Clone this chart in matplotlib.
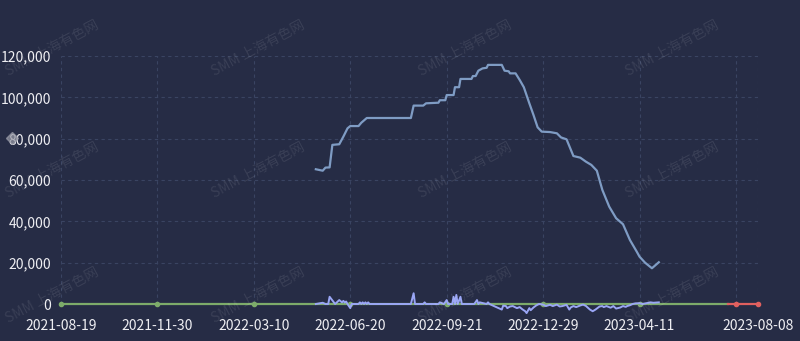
import matplotlib
matplotlib.use('Agg')
import matplotlib.pyplot as plt
from matplotlib.lines import Line2D

plt.rcParams['font.family'] = ['Noto Sans CJK SC', 'DejaVu Sans']

# category axis: one step = one trading day, labels every 70 days
tick_pos = [0, 70, 140, 210, 280, 350, 420, 506]
tick_labels = ['2021-08-19', '2021-11-30', '2022-03-10', '2022-06-20',
               '2022-09-21', '2022-12-29', '2023-04-11', '2023-08-08']
grid_pos = [0, 70, 140, 210, 280, 350, 420, 490, 506]
n_days = 506

# main series (stock level)
main_x = [185, 190, 192, 195, 197, 202, 205, 208, 210, 216, 218, 222, 254, 256,
          263, 265, 274, 275, 279, 280, 285, 286, 289, 290, 298, 299, 301, 303,
          306, 309, 310, 320, 322, 325, 326, 330, 333, 336, 340, 343, 346, 349,
          355, 360, 363, 367, 372, 377, 381, 385, 389, 393, 398, 403, 408, 413,
          418, 420, 424, 429, 434]
main_y = [65200, 64500, 66000, 66100, 77000, 77300, 81000, 85000, 86100, 86100,
          87700, 90000, 90000, 96000, 96000, 97100, 97400, 98600, 98600, 101100,
          101100, 104900, 104900, 108900, 108900, 110300, 110300, 112900, 114000,
          114300, 115700, 115700, 112900, 112600, 111600, 111600, 108400, 104900,
          97100, 91500, 85500, 83400, 83200, 82600, 80600, 79700, 71600, 70800,
          68900, 67300, 64500, 55200, 47100, 41500, 38600, 31000, 25300, 22900,
          20000, 17300, 20200]

# change series near zero
chg_x = [185, 190, 192, 194, 195, 199, 202, 204, 205, 206, 207, 208, 210, 211,
         216, 217, 218, 219, 220, 221, 222, 223, 224, 254, 256, 257, 263, 264, 265,
         274, 275, 278, 280, 281, 284, 285, 286, 287, 288, 290, 291, 300, 302, 303,
         304, 309, 310, 311, 320, 321, 323, 324, 326, 328, 331, 333, 335, 337, 338,
         340, 341, 343, 345, 347, 350, 352, 355, 357, 360, 362, 364, 367, 369, 370,
         372, 374, 377, 379, 381, 384, 386, 388, 390, 391, 393, 394, 396, 399, 401,
         403, 406, 408, 410, 411, 413, 415, 417, 420, 422, 425, 428, 430, 434]
chg_y = [0, 600, 0, 0, 3500, 0, 1900, 800, 1500, 700, 1200, 0, -2000, 0,
         0, 800, 0, 800, 0, 800, 0, 800, 0, 0, 5200, 0, 0, 800, 0,
         0, 800, 0, 1900, 0, 0, 3500, 0, 4400, 0, 3500, 0, 0, 1900, 0,
         800, 0, 800, 0, -2700, -800, -1000, -2000, -1200, -1000, -2000, -1500, -2600,
         -3500, -4400, -2000, -3000, -1700, -700, 0, -300, -1000, -400, -1000, -300,
         -1200, -1000, -400, -2700, -1700, -1000, -1500, -700, -300, -900, -2700, -3500,
         -2700, -1700, -1200, -1000, -1500, -1000, -1800, -1000, -2200, -1700, -1000,
         -1400, -1000, -600, 0, 300, 400, 0, 400, 800, 600, 800]

# zero-value series
green_x = [0, 70, 140, 210, 280, 350, 420, 484]
green_y = [0, 0, 0, 0, 0, 0, 0, 0]
red_x = [484, 490, 506]
red_y = [0, 0, 0]

y_ticks = [0, 20000, 40000, 60000, 80000, 100000, 120000]

bg = '#262c45'
grid_c = '#3a4462'
txt_c = '#eeeef2'

fig = plt.figure(figsize=(8, 3.41), dpi=100, facecolor=bg)
ax = fig.add_axes([61 / 800, 37 / 341, 697 / 800, 248 / 341], facecolor=bg)

ax.set_xlim(0, n_days)
ax.set_ylim(0, 120000)

for gx in grid_pos:
    ax.axvline(gx, color=grid_c, lw=0.8, ls=(0, (3, 3)), zorder=1)
for gy in y_ticks[1:]:
    ax.axhline(gy, color=grid_c, lw=0.8, ls=(0, (3, 3)), zorder=1)

ax.plot(green_x, green_y, color='#7dab6a', lw=1.6, marker='o', ms=3,
        markevery=list(range(7)), zorder=3, clip_on=False)
ax.plot(red_x, red_y, color='#e0605f', lw=1.6, marker='o', ms=3,
        markevery=[1, 2], zorder=3, clip_on=False)
ax.plot(chg_x, chg_y, color='#9aa6f5', lw=1.4, zorder=4, clip_on=False)
ax.plot(main_x, main_y, color='#7f9cc4', lw=1.6, zorder=4)

ax.set_xticks(tick_pos)
ax.set_xticklabels(tick_labels)
ax.set_yticks(y_ticks)
ax.set_yticklabels([f'{v:,}' for v in y_ticks])
ax.tick_params(axis='both', length=0, colors=txt_c, labelsize=10)
ax.tick_params(axis='x', pad=11)
ax.tick_params(axis='y', pad=7)
for s in ax.spines.values():
    s.set_visible(False)

# watermarks
for wy in [48, 170, 295]:
    for wx in [52, 258, 465, 672]:
        fig.text(wx / 800, 1 - wy / 341, 'SMM 上海有色网', rotation=28,
                 ha='center', va='center', fontsize=10, color='#ffffff',
                 alpha=0.09, zorder=0)

# slider handle on the left
fig.add_artist(Line2D([12 / 800], [1 - 138 / 341], marker='D', ms=6,
                      color='#9a9ca8', alpha=0.7, transform=fig.transFigure))

fig.savefig('out.png', dpi=100, facecolor=bg)
